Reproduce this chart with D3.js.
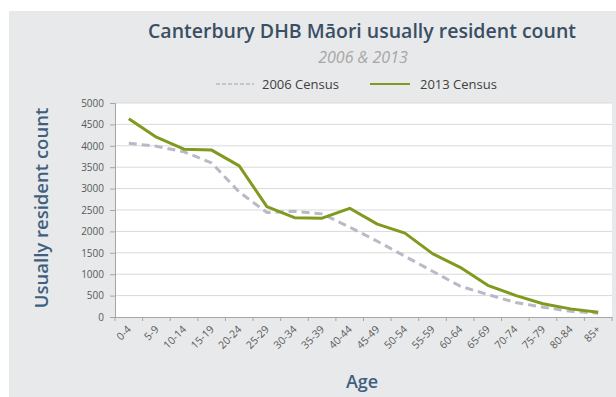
<!doctype html>
<html>
    <head>
        <script src="https://cdn.jsdelivr.net/npm/d3@7"></script>
        <style>
            html, body {
                margin: 0;
                padding: 0;
                background: #ffffff;
            }
            #viz {
                position: absolute;
                top: 0px;
                left: 0px;
                width: 616px;
                height: 397px;
            }
            text {
                font-family: "Open Sans", Lato, sans-serif;
            }
        </style>
    </head>
    <body>
        <div id="viz"></div>
        <script>
            var ageGroups = ["0-4", "5-9", "10-14", "15-19", "20-24", "25-29", "30-34", "35-39", "40-44",
                "45-49", "50-54", "55-59", "60-64", "65-69", "70-74", "75-79", "80-84", "85+"];
            var census2006 = [4060, 3990, 3860, 3600, 2920, 2440, 2470, 2410, 2100,
                1770, 1420, 1070, 720, 525, 340, 230, 135, 90];
            var census2013 = [4630, 4200, 3920, 3900, 3530, 2580, 2320, 2310, 2540,
                2170, 1960, 1480, 1160, 740, 505, 310, 190, 110];
            var yTicks = [0, 500, 1000, 1500, 2000, 2500, 3000, 3500, 4000, 4500, 5000];

            var w = 616, h = 397;
            var margin = {top: 103, right: 4, bottom: 80, left: 115};

            var svg = d3.select("#viz").append("svg")
                .attr("width", w)
                .attr("height", h);

            // grey panel behind everything
            svg.append("rect")
                .attr("x", 9).attr("y", 11)
                .attr("width", w - 9).attr("height", h - 11)
                .attr("fill", "#e8e9ea");

            var x = d3.scaleBand()
                .domain(ageGroups)
                .range([margin.left, w - margin.right]);

            var y = d3.scaleLinear()
                .domain([0, 5000])
                .range([h - margin.bottom, margin.top]);

            svg.append("rect")
                .attr("x", margin.left)
                .attr("y", margin.top)
                .attr("width", w - margin.right - margin.left)
                .attr("height", h - margin.bottom - margin.top)
                .attr("fill", "#ffffff");

            // grid
            svg.append("g")
                .selectAll("line")
                .data(yTicks.slice(1))
                .enter()
                .append("line")
                    .attr("x1", margin.left)
                    .attr("x2", w - margin.right)
                    .attr("y1", function (d) { return y(d); })
                    .attr("y2", function (d) { return y(d); })
                    .attr("stroke", "#d9d9d9")
                    .attr("stroke-width", 1);

            var yAxis = svg.append("g")
                .attr("transform", "translate(" + margin.left + ",0)")
                .call(d3.axisLeft(y).tickValues(yTicks).tickFormat(d3.format("d")).tickSize(5).tickPadding(6));
            yAxis.select(".domain").attr("stroke", "#a6a6a6");
            yAxis.selectAll(".tick line").attr("stroke", "#a6a6a6");
            yAxis.selectAll(".tick text")
                .attr("fill", "#595959")
                .style("font-size", "10px");

            var xAxis = svg.append("g")
                .attr("transform", "translate(0," + (h - margin.bottom) + ")")
                .call(d3.axisBottom(x).tickSize(0).tickPadding(0));
            xAxis.select(".domain").attr("stroke", "#a6a6a6");
            xAxis.selectAll(".tick text")
                .attr("fill", "#595959")
                .style("font-size", "10.5px")
                .attr("text-anchor", "end")
                .attr("dy", 0)
                .attr("transform", "translate(3,13) rotate(-45)");

            // tick marks at the band edges
            svg.append("g")
                .selectAll("line")
                .data(ageGroups.concat(["end"]))
                .enter()
                .append("line")
                    .attr("x1", function (d, i) { return margin.left + i * x.step(); })
                    .attr("x2", function (d, i) { return margin.left + i * x.step(); })
                    .attr("y1", h - margin.bottom)
                    .attr("y2", h - margin.bottom + 4)
                    .attr("stroke", "#a6a6a6");

            var line = d3.line()
                .x(function (d, i) { return x(ageGroups[i]) + x.bandwidth() / 2; })
                .y(function (d) { return y(d); });

            svg.append("path")
                .datum(census2006)
                .attr("d", line)
                .attr("fill", "none")
                .attr("stroke", "#b9b9c7")
                .attr("stroke-width", 3)
                .attr("stroke-dasharray", "8,5");

            svg.append("path")
                .datum(census2013)
                .attr("d", line)
                .attr("fill", "none")
                .attr("stroke", "#7f9a1e")
                .attr("stroke-width", 3)
                .attr("stroke-linejoin", "round");

            // titles
            svg.append("text")
                .attr("x", 362).attr("y", 38)
                .attr("text-anchor", "middle")
                .attr("fill", "#3a4f63")
                .style("font-size", "19.5px")
                .style("font-weight", "600")
                .text("Canterbury DHB Māori usually resident count");

            svg.append("text")
                .attr("x", 363).attr("y", 63)
                .attr("text-anchor", "middle")
                .attr("fill", "#a6a6a6")
                .style("font-size", "16px")
                .style("font-style", "italic")
                .text("2006 & 2013");

            // legend
            var legend = svg.append("g");
            legend.append("line")
                .attr("x1", 216).attr("x2", 254)
                .attr("y1", 84).attr("y2", 84)
                .attr("stroke", "#b9b9c7")
                .attr("stroke-width", 1.5)
                .attr("stroke-dasharray", "4,2");
            legend.append("text")
                .attr("x", 262).attr("y", 89)
                .attr("fill", "#404040")
                .style("font-size", "13px")
                .text("2006 Census");
            legend.append("line")
                .attr("x1", 370).attr("x2", 410)
                .attr("y1", 84).attr("y2", 84)
                .attr("stroke", "#7f9a1e")
                .attr("stroke-width", 2);
            legend.append("text")
                .attr("x", 420).attr("y", 89)
                .attr("fill", "#404040")
                .style("font-size", "13px")
                .text("2013 Census");

            // axis titles
            svg.append("text")
                .attr("transform", "translate(48,208) rotate(-90)")
                .attr("text-anchor", "middle")
                .attr("fill", "#3f5f7f")
                .style("font-size", "18.5px")
                .style("font-weight", "600")
                .text("Usually resident count");

            svg.append("text")
                .attr("x", 362).attr("y", 388)
                .attr("text-anchor", "middle")
                .attr("fill", "#3f5f7f")
                .style("font-size", "18px")
                .style("font-weight", "600")
                .text("Age");
        </script>
    </body>
</html>
